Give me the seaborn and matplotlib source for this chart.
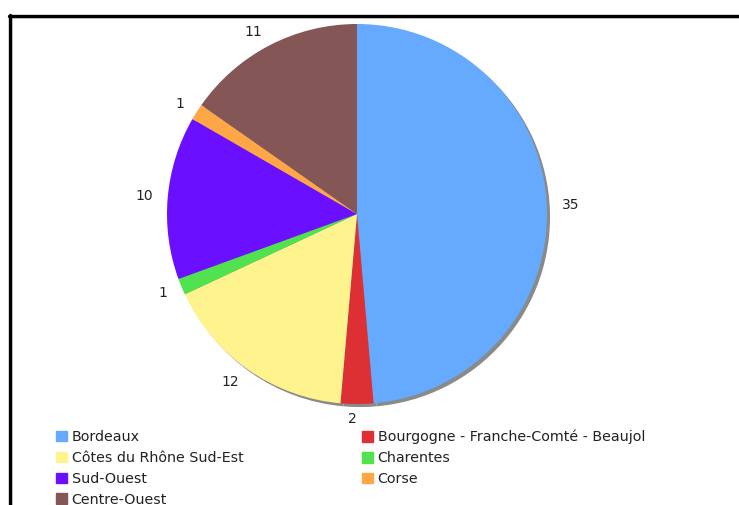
import matplotlib
matplotlib.use("Agg")
import matplotlib.pyplot as plt
import seaborn as sns
from matplotlib.lines import Line2D
from matplotlib.patches import Rectangle

regions = ["Bordeaux", "Bourgogne - Franche-Comté - Beaujol", "Côtes du Rhône Sud-Est",
           "Charentes", "Sud-Ouest", "Corse", "Centre-Ouest"]
counts = [35, 2, 12, 1, 10, 1, 11]
colors = ["#66AAFF", "#DD3035", "#FFF38E", "#50E34F", "#6A0FFF", "#FFA647", "#855656"]

sns.set_style("white")
plt.rcParams["font.family"] = ["DejaVu Sans"]
pal = sns.color_palette(colors)

fig = plt.figure(figsize=(7.39, 5.05), dpi=100)
W, H = 739, 505
cx, cy, r = 357, 214, 190
ax = fig.add_axes([(cx - r) / W, (H - cy - r) / H, 2 * r / W, 2 * r / H])

# shadow
ax.pie(counts, colors=["#8a8a8a"] * len(counts), startangle=90, counterclock=False,
       center=(0.016, -0.016), radius=1.0, wedgeprops=dict(linewidth=0))
wedges, texts = ax.pie(counts, colors=pal, startangle=90, counterclock=False,
                       labels=[str(c) for c in counts], labeldistance=1.08,
                       wedgeprops=dict(linewidth=0),
                       textprops=dict(fontsize=10, color="#222222"))
ax.set_xlim(-1, 1)
ax.set_ylim(-1, 1)
ax.set_aspect("auto")
ax.axis("off")

# frame lines
fig.add_artist(Line2D([10 / W, 1], [1 - 17.5 / H] * 2, color="#dddddd", lw=1.2))
fig.add_artist(Line2D([12 / W] * 2, [0, 1 - 15 / H], color="#dddddd", lw=1.2))
fig.add_artist(Line2D([9 / W, 1], [1 - 15.5 / H] * 2, color="black", lw=2.4))
fig.add_artist(Line2D([10 / W] * 2, [0, 1 - 15 / H], color="black", lw=2.4))

handles = [Rectangle((0, 0), 1, 1, color=c) for c in pal]
left = [0, 2, 4, 6]
right = [1, 3, 5]
common = dict(frameon=False, loc="upper left", fontsize=10.3, handlelength=0.75,
              handleheight=0.75, handletextpad=0.35, labelspacing=0.48, borderaxespad=0,
              borderpad=0)
lg1 = fig.legend([handles[i] for i in left], [regions[i] for i in left],
                 bbox_to_anchor=(56 / W, 1 - 430 / H), **common)
lg2 = fig.legend([handles[i] for i in right], [regions[i] for i in right],
                 bbox_to_anchor=(362 / W, 1 - 430 / H), **common)
for lg in (lg1, lg2):
    for t in lg.get_texts():
        t.set_color("#222222")

fig.savefig("out.png", dpi=100)
